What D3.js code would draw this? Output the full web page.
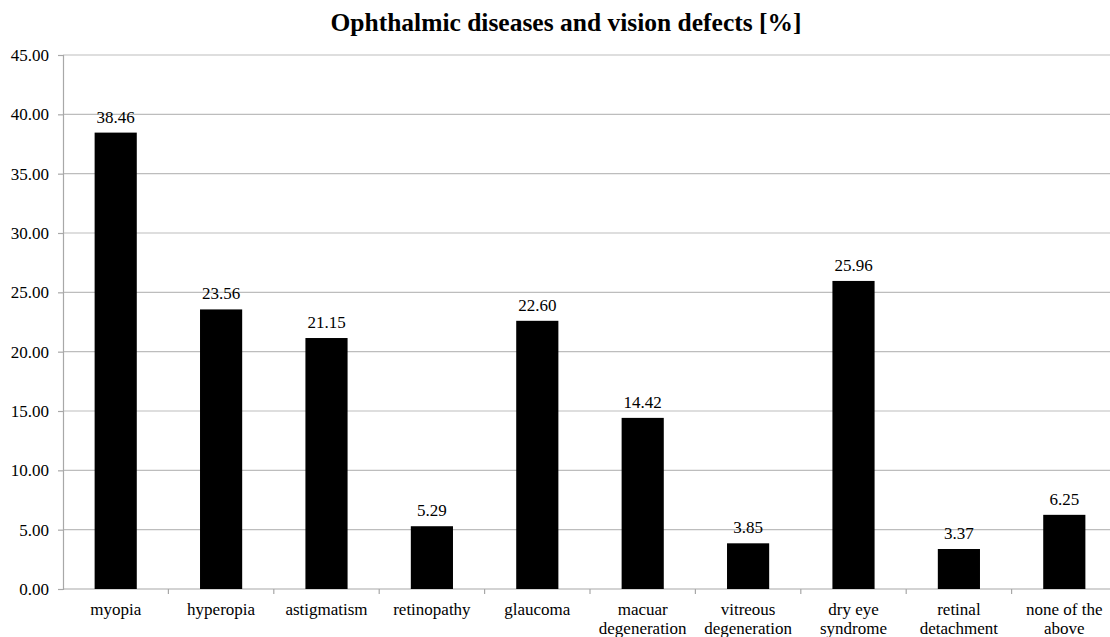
<!DOCTYPE html>
<html>
<head>
<meta charset="utf-8">
<script src="https://cdn.jsdelivr.net/npm/d3@7"></script>
<style>
  html, body { margin: 0; padding: 0; background: #fff; }
  svg { display: block; }
  text { font-family: "Liberation Serif", "Times New Roman", serif; fill: #000; }
</style>
</head>
<body>
<svg id="chart" width="1110" height="637"></svg>
<script>
const categories = [
  ["myopia"], ["hyperopia"], ["astigmatism"], ["retinopathy"], ["glaucoma"],
  ["macuar", "degeneration"], ["vitreous", "degeneration"], ["dry eye", "syndrome"],
  ["retinal", "detachment"], ["none of the", "above"]
];
const values = [38.46, 23.56, 21.15, 5.29, 22.60, 14.42, 3.85, 25.96, 3.37, 6.25];
const yTicks = [0, 5, 10, 15, 20, 25, 30, 35, 40, 45];
const title = "Ophthalmic diseases and vision defects [%]";

const svg = d3.select("#chart");
const mLeft = 63, mRight = 1117, mTop = 55, mBottom = 589;
const keys = categories.map((c, i) => i);
const FONT = '"Liberation Serif", "Times New Roman", serif';

const x = d3.scaleBand().domain(keys).range([mLeft, mRight]).paddingInner(0.6).paddingOuter(0.3);
const xb = d3.scaleBand().domain(keys).range([mLeft, mRight]);
const y = d3.scaleLinear().domain([0, 45]).range([mBottom, mTop]);

// gridlines
svg.append("g").selectAll("line").data(yTicks.filter(d => d > 0)).join("line")
  .attr("x1", mLeft).attr("x2", mRight)
  .attr("y1", d => y(d)).attr("y2", d => y(d))
  .attr("stroke", "#bdbdbd").attr("stroke-width", 1.2);

// y axis
const yAxis = svg.append("g").attr("transform", `translate(${mLeft},0)`)
  .call(d3.axisLeft(y).tickValues(yTicks).tickFormat(d3.format(".2f")).tickSize(5).tickPadding(9));
yAxis.attr("font-family", null);
yAxis.select(".domain").attr("stroke", "#a8a8a8").attr("stroke-width", 1.2);
yAxis.selectAll(".tick line").attr("stroke", "#a8a8a8").attr("stroke-width", 1.2);
yAxis.selectAll("text").style("font-size", "17px").style("font-family", FONT).attr("fill", "#000");

// x axis baseline and ticks at boundaries
svg.append("line").attr("x1", mLeft).attr("x2", mRight).attr("y1", mBottom).attr("y2", mBottom)
  .attr("stroke", "#a8a8a8").attr("stroke-width", 1.2);
svg.append("g").selectAll("line").data(keys).join("line")
  .attr("x1", d => xb(d) + xb.bandwidth()).attr("x2", d => xb(d) + xb.bandwidth())
  .attr("y1", mBottom).attr("y2", mBottom + 5)
  .attr("stroke", "#a8a8a8").attr("stroke-width", 1.2);

// bars
svg.append("g").selectAll("rect").data(values).join("rect")
  .attr("x", (d, i) => x(i)).attr("width", x.bandwidth())
  .attr("y", d => y(d)).attr("height", d => y(0) - y(d))
  .attr("fill", "#000");

// value labels
svg.append("g").selectAll("text").data(values).join("text")
  .attr("x", (d, i) => x(i) + x.bandwidth() / 2)
  .attr("y", d => y(d) - 10)
  .attr("text-anchor", "middle")
  .style("font-size", "17px").style("font-family", FONT)
  .text(d => d.toFixed(2));

// category labels
const cl = svg.append("g").selectAll("text").data(categories).join("text")
  .attr("x", (d, i) => xb(i) + xb.bandwidth() / 2)
  .attr("y", 615)
  .attr("text-anchor", "middle")
  .style("font-size", "17px").style("font-family", FONT);
cl.each(function(d, i) {
  const t = d3.select(this);
  d.forEach((line, j) => {
    t.append("tspan").attr("x", xb(i) + xb.bandwidth() / 2).attr("dy", j === 0 ? 0 : 19).text(line);
  });
});

// title
svg.append("text").attr("x", 566).attr("y", 31).attr("text-anchor", "middle")
  .style("font-size", "25.5px").style("font-weight", "bold").style("font-family", FONT).text(title);
</script>
</body>
</html>
